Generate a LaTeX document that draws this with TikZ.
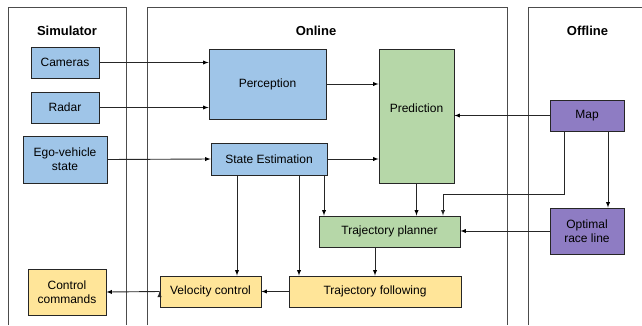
\documentclass[tikz,border=0pt]{standalone}
\usepackage{fontspec}
\setmainfont{Liberation Sans}

\definecolor{simblue}{HTML}{9FC5E8}
\definecolor{plangreen}{HTML}{B6D7A8}
\definecolor{mappurple}{HTML}{8E7CC3}
\definecolor{ctrlyellow}{HTML}{FFE599}

\tikzstyle{block}=[rectangle,
                   draw=black!85,
                   line width=0.9pt,
                   inner sep=0pt,
                   align=center,
                   font=\fontsize{12}{14}\selectfont]
\tikzstyle{sensorbox}=[block, fill=simblue]
\tikzstyle{planbox}=[block, fill=plangreen]
\tikzstyle{offbox}=[block, fill=mappurple]
\tikzstyle{ctrlbox}=[block, fill=ctrlyellow]
\tikzstyle{panel}=[line width=0.9pt, draw=black!70]
\tikzstyle{title}=[font=\bfseries\fontsize{13}{15}\selectfont]

\begin{document}
\begin{tikzpicture}[>=latex, x=1pt, y=-1pt]
  \useasboundingbox (0,0) rectangle (642,325);

  % the three columns, open at the bottom
  \draw[panel] (8,325) -- (8,7) -- (126,7) -- (126,325);
  \draw[panel] (147,325) -- (147,7) -- (507,7) -- (507,325);
  \draw[panel] (528,325) -- (528,7) -- (642,7);
  \node (simtitle) [title] at (67,31) {Simulator};
  \node (ontitle)  [title] at (316,31) {Online};
  \node (offtitle) [title] at (587.5,31) {Offline};

  % simulator side
  \node (cameras) [sensorbox, minimum width=68, minimum height=31] at (65,62.5) {Cameras};
  \node (radar)   [sensorbox, minimum width=68, minimum height=31] at (65,107.5) {Radar};
  \node (ego)     [sensorbox, minimum width=84, minimum height=47] at (65,159.5) {Ego-vehicle\\state};
  \node (control) [ctrlbox, minimum width=78, minimum height=46] at (67,292) {Control\\commands};

  % online stack
  \node (perception) [sensorbox, minimum width=117, minimum height=70] at (267.5,84) {Perception};
  \node (stateest)   [sensorbox, minimum width=116, minimum height=32] at (269,159) {State Estimation};
  \node (prediction) [planbox, minimum width=75, minimum height=134] at (416.5,116) {\raisebox{16pt}{Prediction}};
  \node (planner)    [planbox, minimum width=141, minimum height=31] at (389.5,231.5) {Trajectory planner};
  \node (velocity)   [ctrlbox, minimum width=101, minimum height=31] at (210.5,291.5) {Velocity control};
  \node (following)  [ctrlbox, minimum width=172, minimum height=31] at (375,291.5) {Trajectory following};

  % offline data
  \node (map)      [offbox, minimum width=74, minimum height=31] at (587,115.5) {Map};
  \node (raceline) [offbox, minimum width=74, minimum height=46] at (587,231) {Optimal\\race line};

  % straight connections
  \path[->, draw=black!85, line width=0.9pt]
      (cameras.east)    edge (cameras.east -| perception.west)
      (radar.east)      edge (radar.east -| perception.west)
      (ego.east)        edge (stateest.west)
      (perception.east) edge (perception.east -| prediction.west)
      (stateest.east)   edge (stateest.east -| prediction.west)
      (map.west)        edge (map.west -| prediction.east)
      (prediction.south) edge (prediction.south |- planner.north)
      (raceline.west)   edge (raceline.west -| planner.east)
      ([xshift=21pt]map.south) edge ([xshift=21pt]raceline.north)
      ([xshift=55pt]stateest.south) edge ([xshift=-65.5pt]planner.north)
      ([xshift=-32pt]stateest.south) edge ([xshift=26.5pt]velocity.north)
      ([xshift=30pt]stateest.south) edge ([xshift=-76pt]following.north)
      ([xshift=-14.5pt]planner.south) edge (following.north)
      (following.west)  edge (velocity.east)
      (velocity.west)   edge (control.east);

  % map also feeds the planner
  \draw[->, draw=black!85, line width=0.9pt]
      ([xshift=-23pt]map.south) -- ++(0,63) -| ([xshift=53.5pt]planner.north);
\end{tikzpicture}
\end{document}
